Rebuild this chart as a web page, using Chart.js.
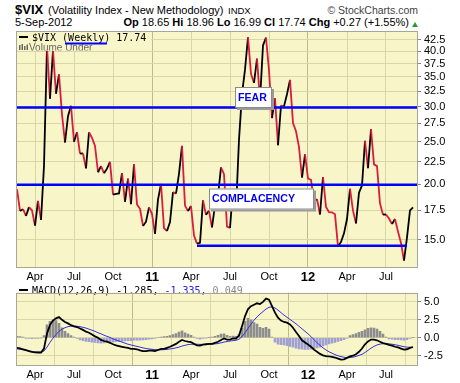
<!DOCTYPE html>
<html><head><meta charset="utf-8">
<script src="https://cdn.jsdelivr.net/npm/chart.js@4.4.0/dist/chart.umd.min.js"></script>
<style>
body{margin:0;width:460px;height:383px;background:#fff;position:relative;overflow:hidden;font-family:"Liberation Sans",Arial,sans-serif;}
.t{position:absolute;white-space:nowrap;color:#000;line-height:1;}
canvas{position:absolute;left:0;}
#tri{position:absolute;left:412px;top:22px;width:0;height:0;border-left:3.5px solid transparent;border-right:3.5px solid transparent;border-bottom:5px solid #2a9a2a;}
</style></head><body>
<div class="t" style="left:15px;top:3px;font-size:13px;font-weight:bold">$VIX</div>
<div class="t" style="left:48px;top:4.7px;font-size:11px">(Volatility Index - New Methodology)</div>
<div class="t" style="left:228px;top:6px;font-size:9.5px">INDX</div>
<div class="t" style="right:42px;top:5px;font-size:10.5px;color:#444">&copy; StockCharts.com</div>
<div class="t" style="left:15px;top:17.2px;font-size:11px">5-Sep-2012</div>
<div class="t" style="right:51px;top:17.2px;font-size:11px"><b>Op</b> 18.65 <b>Hi</b> 18.96 <b>Lo</b> 16.99 <b>Cl</b> 17.74 <b>Chg</b> +0.27 (+1.55%)</div>
<div id="tri"></div>
<canvas id="c1" width="460" height="283" style="top:0"></canvas>
<canvas id="c2" width="460" height="100" style="top:283px"></canvas>
<script>
// ---- data (weekly, week index 0 = week of 22-Feb-2010) ----
const vix = [
19.50,17.42,17.58,16.97,17.77,17.47,16.14,18.36,16.62,22.05,
40.95,31.24,40.10,32.07,35.48,28.79,24.88,28.53,30.12,24.98,
26.25,23.47,23.50,21.74,26.24,25.49,24.45,21.31,21.99,21.21,
21.71,22.50,18.96,19.03,19.08,21.20,18.26,20.61,18.04,22.22,
18.01,17.61,16.11,16.47,17.75,
17.14,15.46,18.47,20.04,15.93,15.69,16.43,19.22,19.06,21.13,
24.44,17.91,17.40,17.87,15.32,14.69,14.75,18.40,17.07,17.43,
15.98,17.95,18.86,21.85,21.10,16.06,15.95,19.53,17.52,25.25,
32.00,36.36,43.05,35.59,33.92,38.52,30.98,41.25,42.96,36.20,
28.24,31.32,24.53,30.16,30.04,32.00,34.47,27.52,26.38,24.29,
20.73,23.40,
20.63,20.47,18.28,18.53,17.10,20.79,17.78,17.31,17.29,17.11,
14.47,14.82,15.50,16.70,19.55,17.44,16.32,19.16,19.89,25.10,
21.76,26.66,22.20,22.00,18.11,17.08,17.10,16.74,16.27,16.70,
15.64,14.74,13.45,15.18,17.47,17.74];
const macd = [
-1.40,-1.48,-1.60,-1.72,-1.85,-1.95,-2.02,-2.05,-2.05,-1.50,
0.60,1.80,2.40,2.70,2.88,2.50,2.20,2.00,1.75,1.60,
1.50,1.30,1.10,0.85,0.70,0.45,0.20,0.00,-0.30,-0.45,
-0.55,-0.70,-0.90,-1.05,-1.15,-1.25,-1.35,-1.40,-1.55,-1.55,
-1.60,-1.75,-1.85,-1.85,-1.80,-1.80,-1.85,-1.70,-1.55,-1.55,
-1.40,-1.25,-1.05,-0.85,-0.55,-0.30,-0.45,-0.55,-0.60,-0.85,
-1.05,-1.10,-0.95,-0.90,-0.85,-0.85,-0.70,-0.55,-0.30,-0.10,
-0.25,-0.25,-0.10,-0.10,0.30,1.60,3.00,4.00,4.40,4.60,
4.80,4.70,5.00,5.45,5.30,4.40,3.50,2.80,2.40,2.20,
2.10,1.85,1.40,0.80,0.25,-0.35,-0.65,-0.95,-1.25,-1.65,
-1.95,-2.25,-2.45,-2.55,-2.60,-2.65,-2.75,-2.90,-3.05,-3.00,
-2.80,-2.60,-2.50,-2.30,-1.95,-1.50,-0.90,-0.50,-0.25,-0.25,
-0.35,-0.55,-0.75,-0.85,-1.00,-1.10,-1.25,-1.35,-1.50,-1.65,
-1.60,-1.40,-1.285];
const signal = [
-1.55,-1.60,-1.65,-1.75,-1.85,-1.92,-1.98,-2.00,-2.02,-1.85,
-1.30,-0.65,-0.05,0.45,0.90,1.20,1.40,1.55,1.62,1.65,
1.60,1.55,1.45,1.35,1.20,1.05,0.90,0.70,0.55,0.35,
0.20,0.05,-0.15,-0.30,-0.45,-0.60,-0.75,-0.90,-1.00,-1.10,
-1.20,-1.30,-1.40,-1.50,-1.55,-1.60,-1.65,-1.68,-1.68,-1.65,
-1.62,-1.55,-1.50,-1.40,-1.30,-1.15,-1.05,-0.95,-0.90,-0.90,
-0.90,-0.92,-0.92,-0.92,-0.90,-0.88,-0.85,-0.80,-0.70,-0.60,
-0.52,-0.45,-0.40,-0.35,-0.20,0.15,0.70,1.30,1.90,2.45,
2.90,3.30,3.65,4.00,4.25,4.30,4.15,3.85,3.50,3.15,
2.85,2.55,2.25,1.95,1.60,1.25,0.90,0.55,0.15,-0.25,
-0.70,-1.05,-1.40,-1.70,-1.95,-2.15,-2.35,-2.50,-2.62,-2.72,
-2.78,-2.75,-2.70,-2.60,-2.45,-2.30,-2.05,-1.75,-1.45,-1.20,
-1.00,-0.88,-0.82,-0.80,-0.85,-0.90,-0.97,-1.05,-1.15,-1.25,
-1.30,-1.33,-1.335];
const hist = [
0.20,0.15,0.10,-0.10,-0.10,-0.12,-0.10,-0.08,-0.05,0.30,
1.80,2.30,2.50,2.40,2.00,1.40,0.90,0.60,0.30,0.10,
-0.10,-0.30,-0.40,-0.50,-0.55,-0.60,-0.65,-0.70,-0.75,-0.70,
-0.65,-0.60,-0.60,-0.55,-0.55,-0.50,-0.45,-0.40,-0.40,-0.35,
-0.35,-0.35,-0.30,-0.25,-0.20,-0.15,-0.10,0.00,0.10,0.15,
0.20,0.30,0.45,0.60,0.80,0.95,0.70,0.50,0.35,0.10,
-0.10,-0.20,-0.10,-0.05,0.05,0.10,0.20,0.35,0.50,0.55,
0.35,0.20,0.25,0.20,0.45,1.30,2.30,2.70,2.50,2.10,
1.90,1.45,1.30,1.45,1.20,0.10,-0.60,-0.90,-0.95,-1.00,
-1.10,-1.20,-1.30,-1.45,-1.55,-1.60,-1.63,-1.62,-1.58,-1.52,
-1.42,-1.30,-1.15,-1.00,-0.85,-0.75,-0.65,-0.50,-0.40,-0.25,
-0.10,0.30,0.45,0.60,0.75,0.90,1.10,1.30,1.40,1.35,
1.20,0.90,0.50,0.10,-0.15,-0.20,-0.25,-0.25,-0.30,-0.35,
-0.25,-0.10,0.049];
const xTickIdx = [6,19,32,45,58,71,84,97,110,123];
const xTickLabels = ['Apr','Jul','Oct','11','Apr','Jul','Oct','12','Apr','Jul'];
const yearTicks = ['11','12'];
const vixTicks = [15,17.5,20,22.5,25,27.5,30,32.5,35,37.5,40,42.5];
const macdTicks = [-2.5,0,2.5,5];
const fearLevel = 29.85, complacencyLevel = 19.97, lowLevel = 14.53;
const lowLineFrom = 60, lowLineTo = 130;

// ---- style ----
const BG = '#f8f6c9', GRID = '#d9d7a6', GRIDY = '#bdbb8e', BORDER = '#a6a699';
const UP = '#000000', DOWN = '#dc1a3c', BLUE = '#0000ff';
const FONT = '"Liberation Sans", Arial, sans-serif';
const MONO = '"DejaVu Sans Mono", monospace';
const XMIN = -1/3, XMAX = (418-17)/3;

function xScale(h){
  return {
    type:'linear', min:XMIN, max:XMAX, offset:false,
    afterBuildTicks: s => { s.ticks = xTickIdx.map(v => ({value:v})); },
    afterFit: s => { s.height = h; },
    ticks:{
      autoSkip:false, maxRotation:0, padding:2, color:'#000',
      callback:(v,i) => xTickLabels[i],
      font: c => { const y = c.tick && yearTicks.includes(xTickLabels[xTickIdx.indexOf(c.tick.value)]);
        return {family:FONT, size: y ? 13 : 11, weight: y ? 'bold' : 'normal'}; }
    },
    grid:{ drawTicks:false, color: c => (c.tick && (c.tick.value===45 || c.tick.value===97)) ? GRIDY : GRID, lineWidth:1 },
    border:{display:false}
  };
}
function yOpts(extra){
  return Object.assign({
    position:'right',
    afterFit: s => { s.width = 42; },
    ticks:{ color:'#000', padding:3, font:{family:FONT, size:11}, callback: v => Number(v).toFixed(1) },
    grid:{ color:GRID, tickLength:3, tickColor:'#888' },
    border:{display:false}
  }, extra);
}
function bgPlugin(){
  return { id:'bg', beforeDraw(ch){ const {ctx, chartArea:a} = ch; ctx.save(); ctx.fillStyle = BG;
    ctx.fillRect(a.left, a.top, a.right-a.left, a.bottom-a.top); ctx.restore(); },
    afterDraw(ch){ const {ctx, chartArea:a} = ch; ctx.save(); ctx.strokeStyle = BORDER; ctx.lineWidth = 1;
    ctx.strokeRect(Math.round(a.left)+0.5, Math.round(a.top)+0.5, Math.round(a.right-a.left)-1, Math.round(a.bottom-a.top)-1); ctx.restore(); } };
}
function box(ctx, x, y, w, h, text){
  ctx.fillStyle = '#9a9a9a'; ctx.fillRect(x+2, y+2, w, h);
  ctx.fillStyle = '#ffffff'; ctx.fillRect(x, y, w, h);
  ctx.strokeStyle = '#8a8a8a'; ctx.lineWidth = 1; ctx.strokeRect(x+0.5, y+0.5, w-1, h-1);
  ctx.fillStyle = '#0000ee'; ctx.font = 'bold 10.6px ' + FONT; ctx.textBaseline = 'middle'; ctx.textAlign='left';
  ctx.fillText(text, x+3, y+h/2+0.5);
}
const ann1 = {
  id:'ann1',
  afterDatasetsDraw(ch){
    const {ctx, chartArea:a} = ch;
    ctx.save();
    ctx.fillStyle = BG; ctx.fillRect(a.left+1, a.top+1, 134, 19);
    ctx.fillStyle = '#000'; ctx.fillRect(19, 36, 9, 2);
    ctx.font = '10px ' + MONO; ctx.textBaseline = 'alphabetic';
    ctx.fillText('$VIX (Weekly) ' + vix[vix.length-1].toFixed(2), 32, 40.5);
    ctx.fillStyle = '#666';
    ctx.fillRect(19,45,1.5,5); ctx.fillRect(21.5,44,1.5,6); ctx.fillRect(24,46,1.5,4); ctx.fillRect(26.5,44.5,1.5,5.5);
    ctx.save(); ctx.beginPath(); ctx.rect(a.left, a.top, 140, 19.5); ctx.clip();
    ctx.font = '10px ' + FONT; ctx.fillText('Volume Under', 29, 51); ctx.restore();
    ctx.fillStyle = BLUE; ctx.fillRect(65, 42.5, 42, 2);
    box(ctx, 235, 87, 37, 21, 'FEAR');
    box(ctx, 209, 188.5, 105, 21, 'COMPLACENCY');
    ctx.restore();
  }
};
const lvl = (v, x0, x1) => ({ type:'line', data:[{x:x0,y:v},{x:x1,y:v}], borderColor:BLUE, borderWidth:2.5, pointRadius:0, order:0 });

new Chart(document.getElementById('c1'), {
  type:'line',
  data:{ datasets:[
    lvl(fearLevel, -2, 140),
    lvl(complacencyLevel, -2, 140),
    lvl(lowLevel, lowLineFrom, lowLineTo),
    { data: vix.map((v,i) => ({x:i, y:v})), borderWidth:1.8, pointRadius:0, tension:0, order:2,
      borderColor:UP, segment:{ borderColor: c => c.p1.parsed.y >= c.p0.parsed.y ? UP : DOWN } }
  ]},
  options:{
    responsive:false, animation:false, devicePixelRatio:1,
    layout:{ padding:{ left:16, top:31, right:0, bottom:0 } },
    plugins:{ legend:{display:false}, tooltip:{enabled:false} },
    scales:{
      x: xScale(15),
      y: yOpts({ type:'logarithmic', min:12.94, max:44.47,
        afterBuildTicks: s => { s.ticks = vixTicks.map(v => ({value:v})); } })
    }
  },
  plugins:[bgPlugin(), ann1]
});

const ann2 = {
  id:'ann2',
  afterDatasetsDraw(ch){
    const {ctx} = ch;
    ctx.save();
    ctx.fillStyle = '#000'; ctx.fillRect(19, 6, 9, 2);
    ctx.font = '10px ' + MONO; ctx.textBaseline = 'alphabetic';
    let x = 32; const y = 10.5;
    const p1 = 'MACD(12,26,9) ' + macd[macd.length-1].toFixed(3) + ', ';
    const p2 = signal[signal.length-1].toFixed(3) + ', ';
    const p3 = hist[hist.length-1].toFixed(3);
    ctx.fillText(p1, x, y); x += ctx.measureText(p1).width;
    ctx.fillStyle = '#2222dd'; ctx.fillText(p2, x, y); x += ctx.measureText(p2).width;
    ctx.fillStyle = '#888'; ctx.fillText(p3, x, y);
    ctx.restore();
  }
};
new Chart(document.getElementById('c2'), {
  type:'line',
  data:{ datasets:[
    { type:'line', data: macd.map((v,i)=>({x:i,y:v})), borderColor:'#000', borderWidth:1.8, pointRadius:0, tension:0, order:0 },
    { type:'line', data: signal.map((v,i)=>({x:i,y:v})), borderColor:'#3a2ee0', borderWidth:1, pointRadius:0, tension:0, order:1 },
    { type:'bar', data: hist.map((v,i)=>({x:i,y:v})), barThickness:2, order:2,
      backgroundColor: hist.map(v => v >= 0 ? '#8d8d8d' : '#a0a0d2') }
  ]},
  options:{
    responsive:false, animation:false, devicePixelRatio:1,
    layout:{ padding:{ left:16, top:1, right:0, bottom:0 } },
    plugins:{ legend:{display:false}, tooltip:{enabled:false} },
    scales:{
      x: xScale(17),
      y: yOpts({ type:'linear', min:-3.93, max:6.29,
        afterBuildTicks: s => { s.ticks = macdTicks.map(v => ({value:v})); } })
    }
  },
  plugins:[bgPlugin(), ann2]
});
</script>
</body></html>
